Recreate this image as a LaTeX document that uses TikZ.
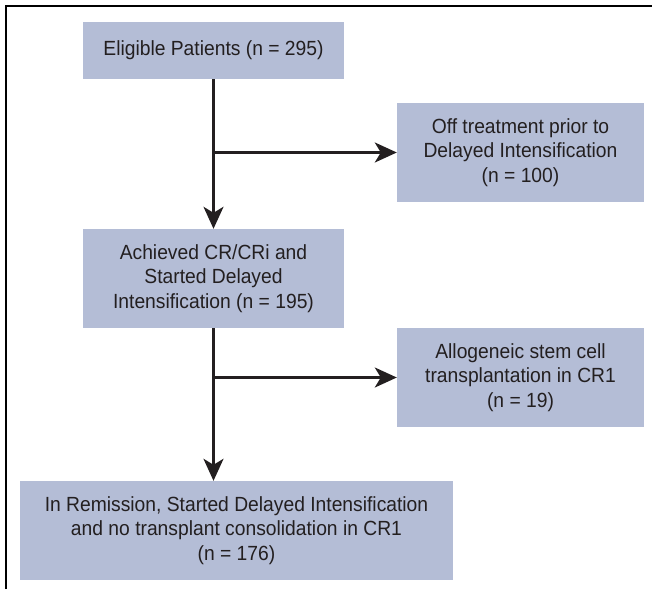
\documentclass[tikz,border=0pt]{standalone}
\usepackage{fontspec}
\setmainfont{Liberation Sans}[FakeStretch=0.94]
\usetikzlibrary{arrows.meta}
\definecolor{boxfill}{RGB}{180,189,214}
\definecolor{ink}{RGB}{35,31,32}
\begin{document}
\begin{tikzpicture}[x=1pt,y=1pt,
  flowbox/.style={draw=none, fill=boxfill, rectangle, inner sep=0pt, align=center,
    text=ink, font=\fontsize{20.5}{24.5}\selectfont},
  conn/.style={draw=ink, line width=2.4pt, -{Stealth[length=22pt,width=20pt,inset=6pt]}},
  frame/.style={draw=black, line width=2.3pt}]
\useasboundingbox (0,0) rectangle (652,-589);
\draw[frame] (6.2,-589) -- (6.2,-6.2) -- (652,-6.2);
\node[flowbox, minimum width=261pt, minimum height=57pt] (b1) at (213.5,-50.5) {Eligible Patients (n = 295)};
\node[flowbox, minimum width=247pt, minimum height=99pt] (b2) at (520.5,-152.5) {Off treatment prior to\\Delayed Intensification\\(n = 100)};
\node[flowbox, minimum width=261pt, minimum height=99pt] (b3) at (213.5,-278.5) {Achieved CR/CRi and\\Started Delayed\\Intensification (n = 195)};
\node[flowbox, minimum width=247pt, minimum height=99pt] (b4) at (520.5,-377.5) {Allogeneic stem cell\\transplantation in CR1\\(n = 19)};
\node[flowbox, minimum width=433pt, minimum height=99pt] (b5) at (236.5,-530.5) {In Remission, Started Delayed Intensification\\and no transplant consolidation in CR1\\(n = 176)};
\coordinate (j1) at (b1.south |- b2.west);
\coordinate (j2) at (b3.south |- b4.west);
\draw[conn] (b1.south) -- (b3.north);
\draw[conn] (j1) -- (b2.west);
\draw[conn] (b3.south) -- (b3.south |- b5.north);
\draw[conn] (j2) -- (b4.west);
\end{tikzpicture}
\end{document}
